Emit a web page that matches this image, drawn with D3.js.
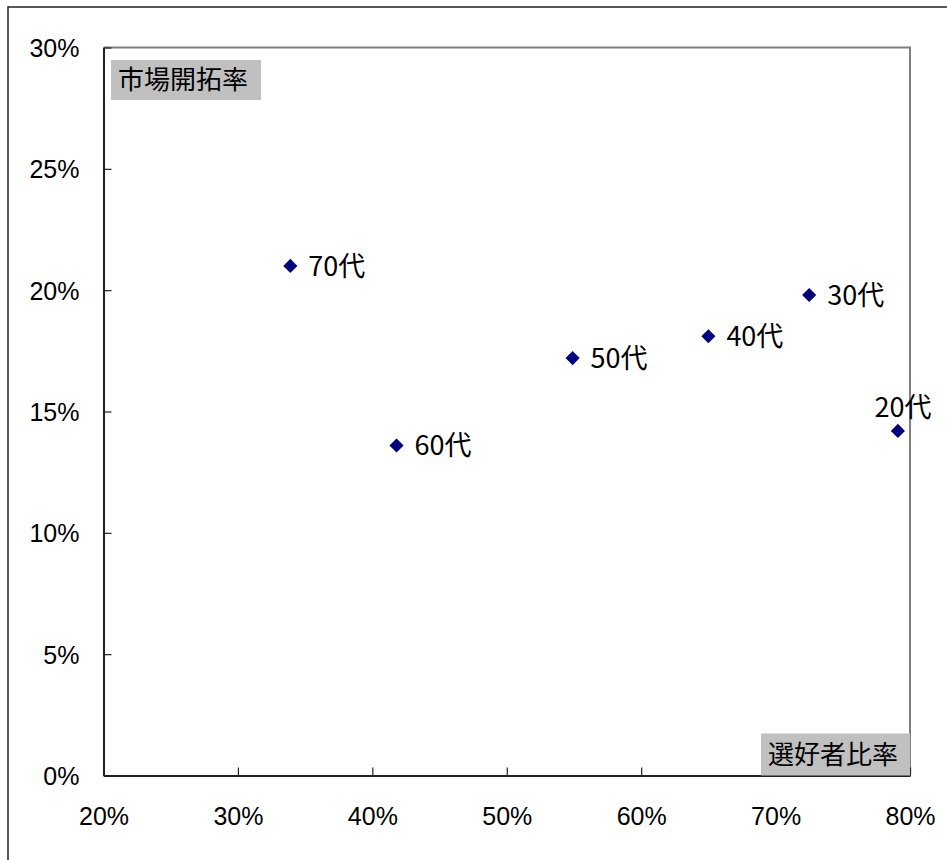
<!DOCTYPE html>
<html>
<head>
<meta charset="utf-8">
<script src="https://cdn.jsdelivr.net/npm/d3@7"></script>
<style>
    body { margin: 0; background: #fff; }
    svg text { font-family: "Liberation Sans", Arial, sans-serif; }
    .jp { font-family: "Noto Sans CJK JP", sans-serif; }
</style>
</head>
<body>
<div id="chart"></div>
<script>
// data
const ages = ["70代", "60代", "50代", "40代", "30代", "20代"];
const preferRate = [0.339, 0.418, 0.549, 0.650, 0.725, 0.791];   // 選好者比率
const marketRate = [0.210, 0.136, 0.172, 0.181, 0.198, 0.142];   // 市場開拓率
const xTicks = [0.2, 0.3, 0.4, 0.5, 0.6, 0.7, 0.8];
const yTicks = [0, 0.05, 0.1, 0.15, 0.2, 0.25, 0.3];

const points = ages.map((a, i) => ({ name: a, x: preferRate[i], y: marketRate[i] }));

const W = 947, H = 860;
const margin = { top: 47.5, right: 37, bottom: 84.5, left: 103.5 };
const width = W - margin.left - margin.right;
const height = H - margin.top - margin.bottom;

const svg = d3.select("#chart").append("svg")
    .attr("width", W)
    .attr("height", H);

// outer chart frame (only top/left visible in the original)
svg.append("rect")
    .attr("x", 8).attr("y", 7)
    .attr("width", 1000).attr("height", 1000)
    .attr("fill", "none")
    .attr("stroke", "#222")
    .attr("stroke-width", 1.5);

const g = svg.append("g")
    .attr("transform", "translate(" + margin.left + "," + margin.top + ")");

const x = d3.scaleLinear().domain([0.2, 0.8]).range([0, width]);
const y = d3.scaleLinear().domain([0, 0.3]).range([height, 0]);

// plot area border: top and right in gray
g.append("path")
    .attr("d", `M0,0H${width}V${height}`)
    .attr("fill", "none")
    .attr("stroke", "#808080")
    .attr("stroke-width", 2);

const pct = d3.format(".0%");

// axes with inward ticks
const xAxis = g.append("g")
    .attr("transform", "translate(0," + height + ")")
    .call(d3.axisBottom(x).tickValues(xTicks).tickFormat(pct).tickSize(-8).tickSizeOuter(0).tickPadding(32));
const yAxis = g.append("g")
    .call(d3.axisLeft(y).tickValues(yTicks).tickFormat(pct).tickSize(-8).tickSizeOuter(0).tickPadding(24));

[xAxis, yAxis].forEach(ax => {
    ax.select(".domain").attr("stroke", "#222").attr("stroke-width", 2);
    ax.selectAll(".tick line").attr("stroke", "#222").attr("stroke-width", 1.2);
    ax.selectAll(".tick text")
        .attr("fill", "#000")
        .style("font-size", "25px")
        .style("font-family", "'Liberation Sans', Arial, sans-serif");
});
yAxis.selectAll(".tick text").attr("dy", "0.36em");
xAxis.selectAll(".tick text").attr("dy", "0.71em");

// axis title boxes
function titleBox(x0, y0, w, h, label) {
    g.append("rect")
        .attr("x", x0).attr("y", y0)
        .attr("width", w).attr("height", h)
        .attr("fill", "#c0c0c0");
    g.append("text")
        .attr("class", "jp")
        .attr("x", x0 + 7)
        .attr("y", y0 + h / 2)
        .attr("dy", "0.36em")
        .style("font-size", "26px")
        .attr("fill", "#000")
        .text(label);
}
titleBox(7.5, 12.5, 150, 40, "市場開拓率");
titleBox(width - 149, height - 42, 149, 42, "選好者比率");

// markers: square turned 45 degrees
const diamond = d3.symbol().type(d3.symbolSquare).size(100);
g.selectAll(".pt")
    .data(points)
    .enter().append("path")
    .attr("class", "pt")
    .attr("transform", d => "translate(" + x(d.x) + "," + y(d.y) + ") rotate(45)")
    .attr("d", diamond)
    .attr("fill", "#000080");

// point labels (last one sits above its marker)
const last = points.length - 1;
g.selectAll(".lbl")
    .data(points)
    .enter().append("text")
    .attr("class", "lbl jp")
    .attr("x", (d, i) => i === last ? x(d.x) + 5 : x(d.x) + 18)
    .attr("y", (d, i) => i === last ? y(d.y) - 14 : y(d.y))
    .attr("dy", (d, i) => i === last ? 0 : "0.36em")
    .attr("text-anchor", (d, i) => i === last ? "middle" : "start")
    .style("font-size", "27px")
    .attr("fill", "#000")
    .text(d => d.name);
</script>
</body>
</html>
